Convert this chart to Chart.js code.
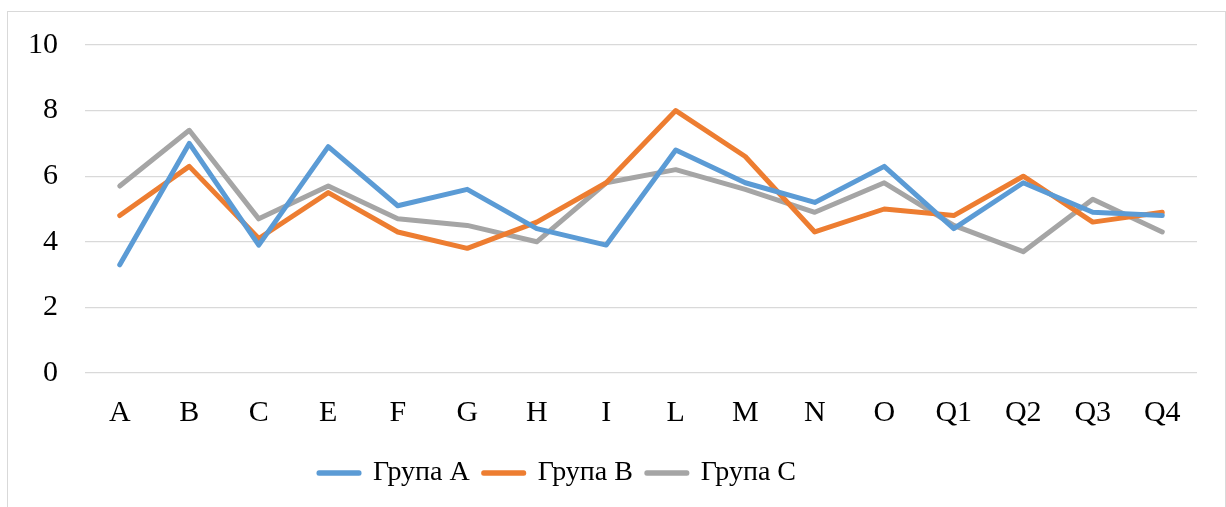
<!DOCTYPE html>
<html>
<head>
<meta charset="utf-8">
<script src="https://cdn.jsdelivr.net/npm/chart.js@4.4.1/dist/chart.umd.min.js"></script>
<style>
  html, body { margin: 0; padding: 0; background: #fff; }
  body { width: 1226px; height: 507px; position: relative; overflow: hidden; }
  #frame { position: absolute; left: 7px; top: 11px; width: 1217px; height: 520px; border: 1px solid #d9d9d9; }
  #wrap { position: absolute; left: 0; top: 0; width: 1226px; height: 507px; }
</style>
</head>
<body>
<div id="frame"></div>
<div id="wrap"><canvas id="chart"></canvas></div>
<script>
// categories and values
const categories = ['A', 'B', 'C', 'E', 'F', 'G', 'H', 'I', 'L', 'M', 'N', 'O', 'Q1', 'Q2', 'Q3', 'Q4'];
const grupaA = [3.3, 7.0, 3.9, 6.9, 5.1, 5.6, 4.4, 3.9, 6.8, 5.8, 5.2, 6.3, 4.4, 5.8, 4.9, 4.8];
const grupaB = [4.8, 6.3, 4.1, 5.5, 4.3, 3.8, 4.6, 5.8, 8.0, 6.6, 4.3, 5.0, 4.8, 6.0, 4.6, 4.9];
const grupaC = [5.7, 7.4, 4.7, 5.7, 4.7, 4.5, 4.0, 5.8, 6.2, 5.6, 4.9, 5.8, 4.5, 3.7, 5.3, 4.3];
const seriesNames = ['Група А', 'Група В', 'Група С'];
const yTicks = [0, 2, 4, 6, 8, 10];

const colors = ['#5B9BD5', '#ED7D31', '#A5A5A5'];
const fontFamily = "'Liberation Serif', 'Times New Roman', serif";

const makeSet = (label, data, color) => ({
    label: label,
    data: data,
    borderColor: color,
    backgroundColor: color,
    borderWidth: 5,
    pointRadius: 0,
    pointHoverRadius: 0,
    tension: 0,
    borderCapStyle: 'round',
    borderJoinStyle: 'round',
    fill: false
});

// legend in the reference sits a bit left of the centre
const shiftLegend = {
    id: 'shiftLegend',
    afterLayout: (chart) => {
        if (chart.legend) {
            chart.legend.right -= 82;
        }
    }
};

const config = {
    type: 'line',
    data: {
        labels: categories,
        datasets: [
            makeSet(seriesNames[0], grupaA, colors[0]),
            makeSet(seriesNames[1], grupaB, colors[1]),
            makeSet(seriesNames[2], grupaC, colors[2])
        ]
    },
    options: {
        responsive: true,
        maintainAspectRatio: false,
        animation: false,
        layout: {
            padding: { top: 17, right: 29, bottom: 10, left: 0 }
        },
        plugins: {
            tooltip: { enabled: false },
            legend: {
                position: 'bottom',
                labels: {
                    boxWidth: 40,
                    boxHeight: 0.5,
                    padding: 14,
                    color: '#000',
                    font: { family: fontFamily, size: 28 }
                }
            }
        },
        scales: {
            x: {
                type: 'category',
                offset: true,
                grid: { display: false },
                border: { display: false },
                ticks: {
                    color: '#000',
                    padding: 14,
                    maxRotation: 0,
                    autoSkip: false,
                    font: { family: fontFamily, size: 30 }
                }
            },
            y: {
                min: 0,
                max: 10,
                afterBuildTicks: (scale) => {
                    scale.ticks = yTicks.map(v => ({ value: v }));
                },
                afterFit: (scale) => {
                    scale.width = 85;
                },
                grid: {
                    color: '#d9d9d9',
                    lineWidth: 1.3,
                    drawTicks: false
                },
                border: { display: false },
                ticks: {
                    color: '#000',
                    padding: 27,
                    font: { family: fontFamily, size: 30 }
                }
            }
        }
    },
    plugins: [shiftLegend]
};

let chart = new Chart(document.getElementById('chart').getContext('2d'), config);
</script>
</body>
</html>
